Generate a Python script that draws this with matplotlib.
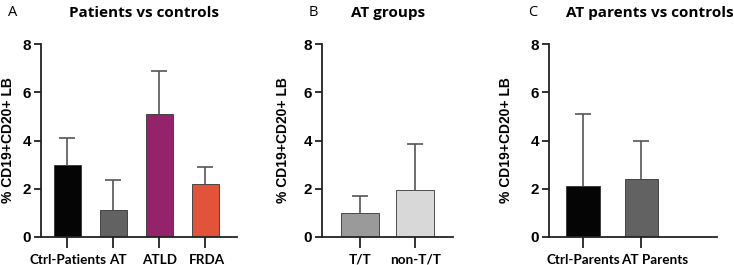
import numpy as np
import matplotlib.pyplot as plt

plt.rcParams['font.family'] = ['Open Sans', 'DejaVu Sans']

# panel A
a_labels = ["Ctrl-Patients", "AT", "ATLD", "FRDA"]
a_means = [3.0, 1.1, 5.1, 2.2]
a_err = [1.1, 1.28, 1.8, 0.7]
a_colors = ["#050505", "#626262", "#95236b", "#e2543a"]

# panel B
b_labels = ["T/T", "non-T/T"]
b_means = [1.0, 1.95]
b_err = [0.72, 1.9]
b_colors = ["#9a9a9a", "#d8d8d8"]

# panel C
c_labels = ["Ctrl-Parents", "AT Parents"]
c_means = [2.1, 2.4]
c_err = [3.0, 1.6]
c_colors = ["#050505", "#626262"]

W, H = 734, 265
fig = plt.figure(figsize=(W / 100, H / 100), dpi=100)


def panel(x0, x1, labels, means, err, colors, xlim, width, letter, lx, title, tx, ylx, shifts):
    ax = fig.add_axes([x0 / W, 1 - 237 / H, (x1 - x0) / W, (237 - 44) / H])
    pos = np.arange(len(labels))
    ax.bar(pos, means, width=width, color=colors, edgecolor="#333333", linewidth=0.6, zorder=2)
    eb = ax.errorbar(pos, means, yerr=[np.zeros(len(err)), err], fmt="none",
                     ecolor="#555555", elinewidth=1.2, capsize=6, capthick=1.2, zorder=1)
    eb.lines[1][0].set_visible(False)  # no cap at the bar top
    ax.set_xlim(*xlim)
    ax.set_ylim(0, 8)
    ax.set_yticks([0, 2, 4, 6, 8])
    # tick marks at the bars, labels nudged sideways so they don't collide
    px_per_unit = (x1 - x0) / (xlim[1] - xlim[0])
    ax.xaxis.remove_overlapping_locs = False
    ax.set_xticks(pos, [""] * len(pos))
    ax.set_xticks(pos + np.array(shifts) / px_per_unit, labels, minor=True,
                  fontsize=9.7, fontweight="bold", family="Lato")
    for t in ax.get_yticklabels():
        t.set_fontsize(11)
        t.set_fontweight("bold")
        t.set_family("Liberation Sans")
    for s in ["top", "right"]:
        ax.spines[s].set_visible(False)
    for s in ["left", "bottom"]:
        ax.spines[s].set_linewidth(1.3)
        ax.spines[s].set_color("#222222")
    ax.tick_params(axis="both", width=1.3, color="#222222")
    ax.tick_params(axis="x", which="major", length=8)
    ax.tick_params(axis="x", which="minor", length=0, pad=12)
    ax.tick_params(axis="y", length=5, pad=2)
    ax.set_ylabel("% CD19+CD20+ LB", fontsize=10, fontweight="bold", family="Liberation Sans")
    ax.yaxis.set_label_coords((ylx - x0) / (x1 - x0), 0.5)
    fig.text(lx / W, 1 - 13 / H, letter, fontsize=10.5, va="center", ha="center")
    fig.text(tx / W, 1 - 13 / H, title, fontsize=11, fontweight="bold", va="center", ha="center")
    return ax


panel(41, 237, a_labels, a_means, a_err, a_colors, (-0.576, 3.685), 0.587,
      "A", 13, "Patients vs controls", 144, 15, [1, 4, 0, 1])
panel(322, 453, b_labels, b_means, b_err, b_colors, (-0.685, 1.676), 0.685,
      "B", 313, "AT groups", 388, 290, [0, 0])
panel(549, 717, c_labels, c_means, c_err, c_colors, (-0.58, 2.29), 0.58,
      "C", 533, "AT parents vs controls", 650, 513, [0, 13])

fig.savefig("out.png", dpi=100)
